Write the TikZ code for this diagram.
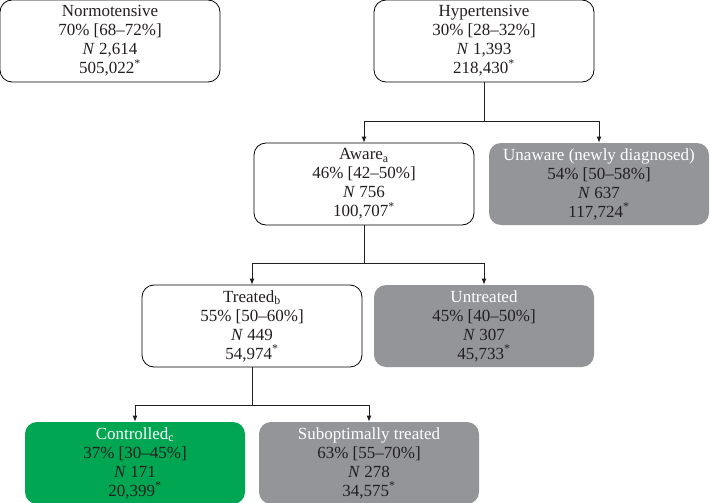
\documentclass[tikz,border=0pt]{standalone}
\usepackage{fontspec}
\setmainfont{Liberation Serif}
\usetikzlibrary{arrows.meta, positioning}
\definecolor{mygrey}{HTML}{939598}
\definecolor{mygreen}{HTML}{00A651}
\definecolor{mytext}{HTML}{231F20}
\newcommand{\headline}[1]{\textcolor{white}{#1}}
\newcommand{\est}{\textsuperscript{*}}
\tikzset{
	boxnode/.style={
			rectangle,
			rounded corners=12pt,
			draw=black,
			line width=0.8pt,
			fill=white,
			text=mytext,
			minimum width=220pt,
			minimum height=82pt,
			align=center,
			inner sep=0pt,
			font=\fontsize{17}{19}\selectfont
		},
	greynode/.style={
			boxnode,
			draw=none,
			fill=mygrey
		},
	greennode/.style={
			boxnode,
			draw=none,
			fill=mygreen
		},
	link/.style={
			line width=0.8pt,
			draw=mytext
		}
}

\begin{document}
\begin{tikzpicture}[x=1pt, y=-1pt]
\useasboundingbox (0,0) rectangle (710,503);

\node[boxnode] (n1) at (110,41) {Normotensive\\70\% [68--72\%]\\\textit{N} 2,614\\505,022\est};
\node[boxnode] (n2) at (484,41) {Hypertensive\\30\% [28--32\%]\\\textit{N} 1,393\\218,430\est};
\node[boxnode] (n3) at (364,184) {Aware\textsubscript{a}\\46\% [42--50\%]\\\textit{N} 756\\100,707\est};
\node[greynode] (n4) at (599,184) {\headline{Unaware (newly diagnosed)}\\54\% [50--58\%]\\\textit{N} 637\\117,724\est};
\node[boxnode] (n5) at (252,326) {Treated\textsubscript{b}\\55\% [50--60\%]\\\textit{N} 449\\54,974\est};
\node[greynode] (n6) at (484,326) {\headline{Untreated}\\45\% [40--50\%]\\\textit{N} 307\\45,733\est};
\node[greennode] (n7) at (135,463) {\headline{Controlled\textsubscript{c}}\\37\% [30--45\%]\\\textit{N} 171\\20,399\est};
\node[greynode] (n8) at (369,463) {\headline{Suboptimally treated}\\63\% [55--70\%]\\\textit{N} 278\\34,575\est};

\coordinate (j1) at (484,121);
\coordinate (j2) at (364,263);
\coordinate (j3) at (252,405);

\draw[link] (n2) -- (j1);
\draw[link, -{Latex[length=6pt, width=5pt]}] (j1) -| (n3);
\draw[link, -{Latex[length=6pt, width=5pt]}] (j1) -| (n4);

\draw[link] (n3) -- (j2);
\draw[link, -{Latex[length=6pt, width=5pt]}] (j2) -| (n5);
\draw[link, -{Latex[length=6pt, width=5pt]}] (j2) -| (n6);

\draw[link] (n5) -- (j3);
\draw[link, -{Latex[length=6pt, width=5pt]}] (j3) -| (n7);
\draw[link, -{Latex[length=6pt, width=5pt]}] (j3) -| (n8);
\end{tikzpicture}
\end{document}
